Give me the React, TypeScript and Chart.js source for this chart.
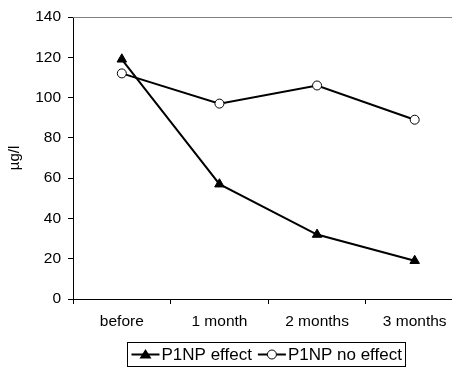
import { useEffect, useRef } from "react";
import { Chart, registerables } from "chart.js";
Chart.register(...registerables);

const categories = ["before", "1 month", "2 months", "3 months"];
const effectValues = [119, 57, 32, 19];
const noEffectValues = [112, 97, 106, 89];
const seriesLabels = ["P1NP effect", "P1NP no effect"];
const yAxisTitle = "µg/l";

const FONT = "'Liberation Sans', Arial, sans-serif";

const frameLines = {
  id: "frameLines",
  afterDraw(chart: any) {
    const { ctx, chartArea } = chart;
    ctx.save();
    ctx.strokeStyle = "#808080";
    ctx.lineWidth = 1;
    ctx.beginPath();
    ctx.moveTo(chartArea.left, chartArea.top + 0.5);
    ctx.lineTo(chartArea.right, chartArea.top + 0.5);
    ctx.stroke();
    ctx.restore();
  },
};

const boxLegend = {
  id: "boxLegend",
  afterDraw(chart: any) {
    const { ctx, chartArea } = chart;
    ctx.save();
    ctx.font = `17px ${FONT}`;
    const sample = 28;
    const gap = 2;
    const sep = 6;
    const pad = 4;
    const items = chart.data.datasets.map((d: any) => ({
      label: d.label,
      w: ctx.measureText(d.label).width,
      style: d.pointStyle,
    }));
    let total = pad * 2;
    items.forEach((it: any, i: number) => {
      total += sample + gap + it.w + (i > 0 ? sep : 0);
    });
    const cx = (chartArea.left + chartArea.right) / 2 - 2;
    const top = 342;
    const h = 24;
    let x = Math.round(cx - total / 2) + 0.5;
    ctx.strokeStyle = "#000";
    ctx.lineWidth = 1;
    ctx.strokeRect(x, top + 0.5, Math.round(total), h);
    const my = top + h / 2 + 0.5;
    x += pad;
    items.forEach((it: any, i: number) => {
      if (i > 0) x += sep;
      ctx.lineWidth = 2;
      ctx.beginPath();
      ctx.moveTo(x, my);
      ctx.lineTo(x + sample, my);
      ctx.stroke();
      ctx.lineWidth = 1;
      const px = x + sample / 2;
      if (it.style === "triangle") {
        ctx.fillStyle = "#000";
        ctx.beginPath();
        ctx.moveTo(px, my - 5.5);
        ctx.lineTo(px + 6, my + 4);
        ctx.lineTo(px - 6, my + 4);
        ctx.closePath();
        ctx.fill();
      } else {
        ctx.fillStyle = "#fff";
        ctx.beginPath();
        ctx.arc(px, my, 4.5, 0, Math.PI * 2);
        ctx.fill();
        ctx.stroke();
      }
      x += sample + gap;
      ctx.fillStyle = "#000";
      ctx.textBaseline = "middle";
      ctx.fillText(it.label, x, my + 1);
      x += it.w;
    });
    ctx.restore();
  },
};

export default function App() {
  const ref = useRef<HTMLCanvasElement>(null);
  useEffect(() => {
    if (!ref.current) return;
    const chart = new Chart(ref.current, {
      type: "line",
      data: {
        labels: categories,
        datasets: [
          {
            label: seriesLabels[0],
            data: effectValues,
            borderColor: "#000",
            borderWidth: 2,
            pointStyle: "triangle",
            pointRadius: 5.5,
            pointBackgroundColor: "#000",
            pointBorderColor: "#000",
            pointBorderWidth: 1,
          },
          {
            label: seriesLabels[1],
            data: noEffectValues,
            borderColor: "#000",
            borderWidth: 2,
            pointStyle: "circle",
            pointRadius: 4.5,
            pointBackgroundColor: "#fff",
            pointBorderColor: "#000",
            pointBorderWidth: 1,
          },
        ],
      },
      options: {
        animation: false,
        responsive: false,
        maintainAspectRatio: false,
        layout: { padding: { left: 0, right: 5, top: 17, bottom: 29 } },
        plugins: {
          legend: { display: false },
          tooltip: { enabled: false },
        },
        scales: {
          x: {
            offset: true,
            grid: {
              offset: true,
              drawOnChartArea: false,
              drawTicks: true,
              tickLength: 5,
              color: "#000",
            },
            border: { color: "#000", width: 1 },
            ticks: { color: "#000", font: { family: FONT, size: 15.5 }, padding: 8, maxRotation: 0 },
            afterFit: (s: any) => {
              s.height = 40;
            },
          },
          y: {
            min: 0,
            max: 140,
            ticks: { stepSize: 20, color: "#000", font: { family: FONT, size: 15.5 }, padding: 7 },
            grid: {
              drawOnChartArea: false,
              drawTicks: true,
              tickLength: 5,
              color: "#000",
            },
            border: { color: "#000", width: 1 },
            title: {
              display: true,
              text: yAxisTitle,
              color: "#000",
              font: { family: FONT, size: 15 },
              padding: { top: 6, bottom: 0 },
            },
            afterFit: (s: any) => {
              s.width = 73;
            },
          },
        },
      },
      plugins: [frameLines, boxLegend],
    });
    return () => chart.destroy();
  }, []);
  return (
    <div style={{ position: "fixed", left: 0, top: 0, width: 452, height: 368, overflow: "hidden", background: "#fff" }}>
      <canvas ref={ref} width={470} height={368} style={{ display: "block" }} />
    </div>
  );
}
